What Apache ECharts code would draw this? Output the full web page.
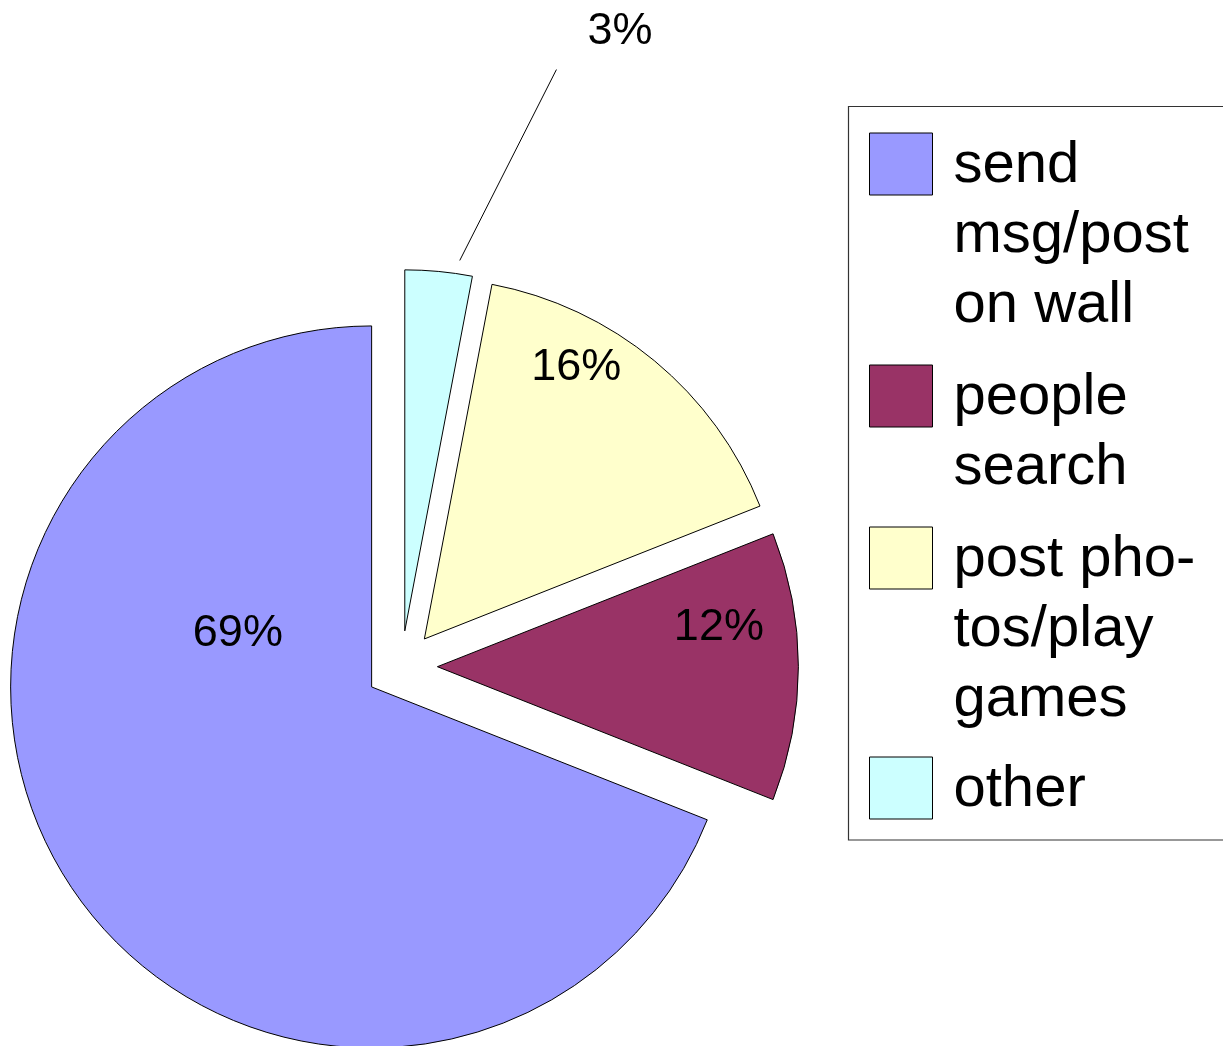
<!DOCTYPE html>
<html><head><meta charset="utf-8">
<script src="https://cdn.jsdelivr.net/npm/echarts@6/dist/echarts.min.js"></script>
<style>html,body{margin:0;padding:0;background:#fff}#c{width:1223px;height:1046px}</style>
</head><body><div id="c"></div>
<script>
const categories = ['send msg/post on wall', 'people search', 'post photos/play games', 'other'];
const legendLabels = ['send\nmsg/post\non wall', 'people\nsearch', 'post pho-\ntos/play\ngames', 'other'];
const values = [69, 12, 16, 3];
const colors = ['#9999ff', '#993366', '#ffffcc', '#ccffff'];
const FONT = "'Liberation Sans', Arial, sans-serif";

// style: shift of inside labels from ECharts' default anchor
const labelShift = [[18, -156], [98, -39], [35, -130], null];
function shiftPadding(s) {
  const dx = s[0], dy = s[1];
  return [dy > 0 ? 2 * dy : 0, dx < 0 ? -2 * dx : 0, dy < 0 ? -2 * dy : 0, dx > 0 ? 2 * dx : 0];
}
const legendTops = [-13, 289, 381, 751];
const legendRich = {t: {fontSize: 58, lineHeight: 70, color: '#000', fontFamily: FONT}};

const chart = echarts.init(document.getElementById('c'), null, {renderer: 'canvas'});
chart.setOption({
  animation: false,
  backgroundColor: '#ffffff',
  graphic: [{
    type: 'rect', silent: true, z: -1,
    shape: {x: 848.5, y: 106.5, width: 420, height: 733.5},
    style: {fill: 'none', stroke: '#333', lineWidth: 1.2}
  }],
  legend: categories.map(function (name, i) {
    const lines = legendLabels[i].split('\n');
    const n = lines.length;
    return {
      orient: 'vertical', left: 869, top: legendTops[i], padding: 0, itemGap: 0,
      itemWidth: 63, itemHeight: 62, icon: 'rect', selectedMode: false,
      data: [name],
      formatter: function () {
        return lines.map(function (l) { return '{t|' + l + '}'; }).join('\n');
      },
      itemStyle: {borderColor: '#000', borderWidth: 1},
      textStyle: {fontSize: 58, lineHeight: 70, color: '#000', fontFamily: FONT,
        padding: [70 * (n - 1) + 4, 0, 0, 16], rich: legendRich}
    };
  }),
  series: [{
    type: 'pie',
    center: [401.4, 666.7],
    radius: 361,
    startAngle: 90,
    clockwise: false,
    selectedMode: 'multiple',
    selectedOffset: 36,
    avoidLabelOverlap: false,
    emphasis: {disabled: true},
    itemStyle: {borderColor: '#000', borderWidth: 1},
    label: {show: true, position: 'outside', formatter: '{v|{c}%}', fontSize: 45, color: '#000',
      fontFamily: FONT, distanceToLabelLine: 5,
      rich: {v: {fontSize: 45, color: '#000', fontFamily: FONT}}},
    labelLine: {show: true, length: 241, length2: 121, lineStyle: {color: '#000', width: 1}},
    labelLayout: function (p) {
      if (p.dataIndex !== 3 || !p.labelLinePoints) return {};
      const pts = p.labelLinePoints;
      const a = [pts[0][0] + 21, pts[0][1] - 11];
      const b = [pts[2][0] - 26, pts[2][1] + 38];
      return {labelLinePoints: [a, [(a[0] + b[0]) / 2, (a[1] + b[1]) / 2], b]};
    },
    data: categories.map(function (name, i) {
      return {
        name: name, value: values[i], selected: true,
        itemStyle: {color: colors[i]},
        label: i < 3 ? {position: 'inside', padding: shiftPadding(labelShift[i])} : {position: 'outside'},
        labelLine: {show: i === 3}
      };
    })
  }]
});
</script>
</body></html>
